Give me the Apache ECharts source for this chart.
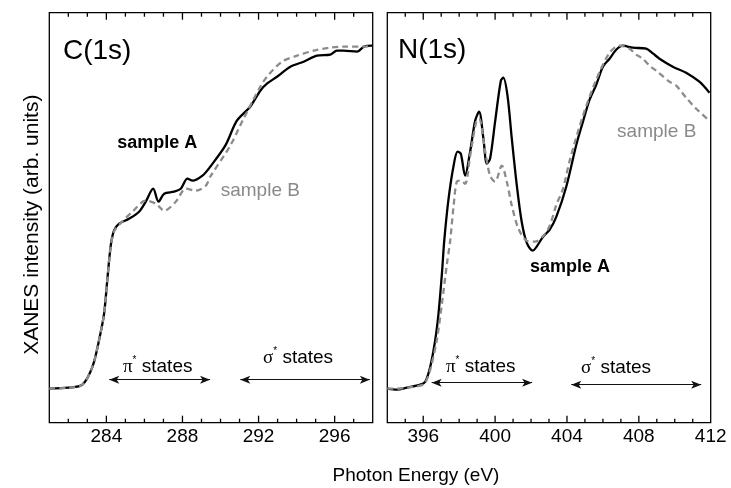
<!DOCTYPE html>
<html><head><meta charset="utf-8">
<script src="https://cdn.jsdelivr.net/npm/echarts@6/dist/echarts.min.js"></script>
<style>html,body{margin:0;padding:0;background:#fff}#c{width:731px;height:488px}</style>
</head><body><div id="c"></div>
<script>
// ---------- data ----------
const cRange = [281, 298];
const nRange = [394, 412];
const cMajorTicks = [284, 288, 292, 296];
const nMajorTicks = [396, 400, 404, 408, 412];
const yRange = [0, 410];

// C(1s) XANES, [photon energy eV, intensity arb. units]
const c1sSampleA = [[281.0,34],[282.0,35],[282.74,38],[283.27,56],[283.62,83],[283.88,109],[284.05,143],[284.23,177],[284.4,192],[284.67,199],[285.19,204],[285.72,211],[286.07,221],[286.46,234],[286.74,221],[287.04,229],[287.56,231],[287.91,234],[288.26,244],[288.53,242],[289.05,247],[289.46,256],[290.25,277],[290.86,302],[291.56,316],[292.09,332],[292.44,339],[292.97,346],[293.67,356],[294.37,361],[295.07,367],[295.77,368],[296.12,372],[296.47,372],[297.18,371],[297.53,376],[297.97,377]];
const c1sSampleB = [[281.0,34],[282.0,35],[282.74,38],[283.27,56],[283.62,83],[283.88,109],[284.05,143],[284.23,176],[284.4,191],[284.67,198],[285.37,211],[286.07,222],[286.6,219],[287.04,212],[287.65,221],[288.18,234],[288.7,232],[289.23,237],[289.46,246],[290.51,277],[291.21,304],[292.09,336],[292.44,346],[293.23,361],[294.02,367],[294.9,372],[295.77,375],[296.47,376],[297.53,376],[297.97,377]];

// N(1s) XANES
const n1sSampleA = [[394.0,34],[394.54,33],[395.09,35],[395.83,38],[396.11,41],[396.39,56],[396.67,83],[396.85,109],[397.04,149],[397.17,182],[397.41,224],[397.69,257],[397.91,271],[398.09,269],[398.33,247],[398.61,271],[398.89,302],[399.11,311],[399.35,284],[399.54,259],[399.72,264],[400.0,301],[400.32,342],[400.46,345],[400.69,327],[400.93,284],[401.21,237],[401.48,201],[401.76,180],[402.08,172],[402.67,186],[403.04,193],[403.41,206],[403.96,236],[404.52,278],[404.89,301],[405.26,323],[405.63,338],[406.0,356],[406.37,364],[406.74,373],[407.11,377],[407.67,375],[408.41,374],[408.8,369],[409.15,364],[409.89,356],[410.63,350],[411.37,341],[411.93,330]];
const n1sSampleB = [[394.0,34],[394.54,34],[395.09,35],[395.83,37],[396.11,40],[396.39,53],[396.76,83],[397.04,119],[397.32,159],[397.5,182],[397.69,217],[397.87,241],[398.09,242],[398.33,239],[398.61,267],[398.95,301],[399.11,304],[399.45,271],[399.72,247],[400.0,241],[400.37,257],[400.65,241],[400.93,217],[401.3,194],[401.76,182],[402.22,181],[402.69,187],[403.04,197],[403.41,218],[403.78,234],[404.15,262],[404.89,307],[405.63,343],[406.37,370],[406.93,377],[407.48,374],[407.85,368],[408.22,364],[408.6,357],[408.97,352],[409.7,341],[410.08,337],[410.63,325],[411.19,314],[411.93,302]];

// energy ranges of the pi*/sigma* arrows
const cPiRange = [284.15, 289.45];
const cSigmaRange = [291.04, 297.85];
const nPiRange = [396.47, 402.06];
const nSigmaRange = [404.24, 411.47];

// ---------- chart ----------
const FONT = 'Liberation Sans, Arial, Helvetica, sans-serif';
const chart = echarts.init(document.getElementById('c'), null, {renderer: 'canvas'});

function arrowLines(ranges, levels) {
  return {
    silent: true, symbol: ['arrow', 'arrow'], symbolSize: [6, 10],
    lineStyle: {color: '#111', width: 1.1, type: 'solid'}, label: {show: false}, emphasis: {disabled: true},
    data: ranges.map((r, i) => [{coord: [r[0], levels[i]]}, {coord: [r[1], levels[i]]}])
  };
}

function xAxisFor(gi, range, majors) {
  return {gridIndex: gi, type: 'value', min: range[0], max: range[1], position: 'bottom',
    splitLine: {show: false}, axisLine: {show: false, onZero: false}, axisTick: {show: false},
    axisLabel: {show: true, customValues: majors, color: '#000', fontSize: 19, fontFamily: FONT, margin: 5}};
}

const lineA = {color: '#000', width: 2.3};
const lineB = {color: '#8c8c8c', width: 2.3, type: [6, 4]};

const rich = {
  g: {fontFamily: 'Liberation Serif, serif', fontSize: 19, lineHeight: 24, color: '#111'},
  s: {fontFamily: FONT, fontSize: 10, lineHeight: 10, verticalAlign: 'top', color: '#111'},
  t: {fontFamily: FONT, fontSize: 19, lineHeight: 24, color: '#111'}
};
function stateLabel(greek, x, y) {
  return {type: 'text', x: x, y: y, silent: true,
    style: {text: '{g|' + greek + '}{s|*}{t| states}', rich: rich, align: 'left', verticalAlign: 'middle'}};
}
function plainText(t, x, y, opts) {
  return {type: 'text', x: x, y: y, silent: true,
    style: Object.assign({text: t, font: '19px ' + FONT, fill: '#000', align: 'center', verticalAlign: 'middle'}, opts || {})};
}

const texts = [
  plainText('C(1s)', 63, 51, {font: '28px ' + FONT, align: 'left'}),
  plainText('N(1s)', 398, 50, {font: '28px ' + FONT, align: 'left'}),
  plainText('sample A', 157.3, 143.5, {font: 'bold 18px ' + FONT}),
  plainText('sample B', 260.3, 191.2, {fill: '#8a8a8a'}),
  plainText('sample B', 656.7, 132, {fill: '#8a8a8a'}),
  plainText('sample A', 570, 266.7, {font: 'bold 18px ' + FONT}),
  stateLabel('π', 123, 367),
  stateLabel('σ', 263, 358),
  stateLabel('π', 446, 367),
  stateLabel('σ', 581, 368),
  plainText('Photon Energy (eV)', 416, 476, {font: '19px ' + FONT})
];

const option = {
  animation: false,
  backgroundColor: '#fff',
  grid: [
    {left: 49.3, top: 12.7, width: 323.4, height: 410, show: true, borderColor: '#000', borderWidth: 1.3, backgroundColor: 'transparent'},
    {left: 387.3, top: 12.7, width: 323.4, height: 410, show: true, borderColor: '#000', borderWidth: 1.3, backgroundColor: 'transparent'}
  ],
  xAxis: [xAxisFor(0, cRange, cMajorTicks), xAxisFor(1, nRange, nMajorTicks)],
  yAxis: [
    {gridIndex: 0, type: 'value', min: yRange[0], max: yRange[1], axisLine: {show: false}, axisTick: {show: false},
      axisLabel: {show: false}, splitLine: {show: false},
      name: 'XANES intensity (arb. units)', nameLocation: 'middle', nameGap: 7,
      nameTextStyle: {fontSize: 21, fontFamily: FONT, color: '#000', padding: [0, 14, 0, 0]}},
    {gridIndex: 1, type: 'value', min: yRange[0], max: yRange[1], axisLine: {show: false}, axisTick: {show: false},
      axisLabel: {show: false}, splitLine: {show: false}}
  ],
  series: [
    {type: 'line', name: 'C sample A', xAxisIndex: 0, yAxisIndex: 0, data: c1sSampleA, showSymbol: false, symbol: 'none',
      smooth: 0.3, lineStyle: lineA, z: 3,
      markLine: arrowLines([cPiRange, cSigmaRange], [43, 43])},
    {type: 'line', name: 'C sample B', xAxisIndex: 0, yAxisIndex: 0, data: c1sSampleB, showSymbol: false, symbol: 'none',
      smooth: 0.3, lineStyle: lineB, z: 4},
    {type: 'line', name: 'N sample A', xAxisIndex: 1, yAxisIndex: 1, data: n1sSampleA, showSymbol: false, symbol: 'none',
      smooth: 0.3, lineStyle: lineA, z: 3,
      markLine: arrowLines([nPiRange, nSigmaRange], [40, 38])},
    {type: 'line', name: 'N sample B', xAxisIndex: 1, yAxisIndex: 1, data: n1sSampleB, showSymbol: false, symbol: 'none',
      smooth: 0.3, lineStyle: lineB, z: 4}
  ],
  graphic: texts
};
chart.setOption(option);

// inward ticks every 1 eV (longer at labelled energies) on the top and bottom frame,
// placed through each panel's own scales (via one of its series)
function tickGraphics(seriesIdx, range, majors) {
  const out = [];
  for (let v = Math.ceil(range[0]); v <= range[1]; v++) {
    if (v <= range[0] || v >= range[1]) continue;
    const len = majors.indexOf(v) >= 0 ? 7 : 4;
    const pb = chart.convertToPixel({seriesIndex: seriesIdx}, [v, yRange[0]]);
    const pt = chart.convertToPixel({seriesIndex: seriesIdx}, [v, yRange[1]]);
    if (!pb || !pt || isNaN(pb[0])) continue;
    const st = {stroke: '#000', lineWidth: 1.3};
    out.push({type: 'line', silent: true, z: 100, shape: {x1: pb[0], y1: pb[1], x2: pb[0], y2: pb[1] - len}, style: st});
    out.push({type: 'line', silent: true, z: 100, shape: {x1: pt[0], y1: pt[1], x2: pt[0], y2: pt[1] + len}, style: st});
  }
  return out;
}
chart.setOption({graphic: texts.concat(tickGraphics(0, cRange, cMajorTicks), tickGraphics(2, nRange, nMajorTicks))});
</script></body></html>
